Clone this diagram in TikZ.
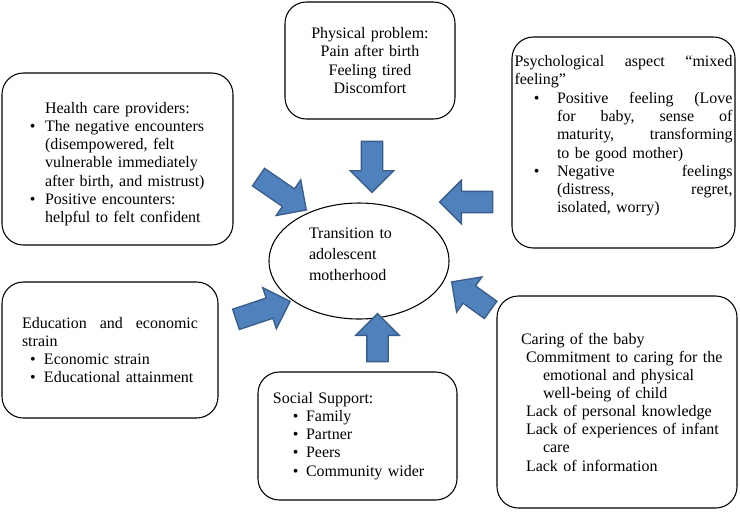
\documentclass[tikz,border=0pt]{standalone}
\usepackage{fontspec}
\setmainfont{Liberation Serif}
\usetikzlibrary{shapes.geometric,shapes.arrows}

\definecolor{arrowblue}{HTML}{4F81BD}
\definecolor{arrowedge}{HTML}{385D8A}

\newcommand{\bul}[2]{\hspace*{#1}\makebox[#2][l]{\textbullet}}

\tikzset{
	card/.style={draw, line width=0.8pt, rounded corners=16pt, align=left, inner sep=0pt,
		font=\fontsize{12}{13.6}\selectfont},
	blockarrow/.style={single arrow, draw=arrowedge, fill=arrowblue, line width=1pt,
		minimum width=31.5pt, single arrow head extend=8.25pt, single arrow tip angle=90,
		inner xsep=0pt, inner ysep=7.5pt}
}

\begin{document}
\begin{tikzpicture}[x=0.75pt,y=-0.75pt]
	\useasboundingbox (0,0) rectangle (740,512);

	%Centre
	\node[draw, ellipse, line width=0.8pt, minimum width=135pt, minimum height=87pt, inner sep=0pt,
		text width=75pt, align=left, text depth=42pt, font=\fontsize{12}{15.75}\selectfont]
		(transition) at (359,261) {Transition to\\ adolescent\\ motherhood};

	%Boxes
	\node[card, minimum width=127.5pt, minimum height=87.75pt, text width=112.5pt, align=center]
		(physical) at (370,60.5) {Physical problem:\\ Pain after birth\\ Feeling tired\\ Discomfort};

	\node[card, minimum width=173.25pt, minimum height=129pt, text width=142.5pt, text height=16pt]
		(health) at (117.5,159) {%
		\makebox[\linewidth]{Health care providers:}\\
		\bul{5.6pt}{11.3pt}The negative encounters\\
		\hspace*{16.9pt}(disempowered, felt\\
		\hspace*{16.9pt}vulnerable immediately\\
		\hspace*{16.9pt}after birth, and mistrust)\\
		\bul{5.6pt}{11.3pt}Positive encounters:\\
		\hspace*{16.9pt}helpful to felt confident};

	\node[card, minimum width=167.25pt, minimum height=158.25pt, text width=163.5pt,
		text depth=122pt, font=\fontsize{12}{13.7}\selectfont]
		(psych) at (623.5,142.5) {%
		Psychological\hfill aspect\hfill “mixed\\
		feeling”\\
		\bul{14.6pt}{17.3pt}Positive\hfill feeling\hfill (Love\\
		\hspace*{31.9pt}for\hfill baby,\hfill sense\hfill of\\
		\hspace*{31.9pt}maturity,\hfill transforming\\
		\hspace*{31.9pt}to be good mother)\\
		\bul{14.6pt}{17.3pt}Negative\hfill feelings\\
		\hspace*{31.9pt}(distress,\hfill regret,\\
		\hspace*{31.9pt}isolated, worry)};

	\node[card, minimum width=162pt, minimum height=102pt, text width=132pt]
		(education) at (110,350) {%
		Education\hfill and\hfill economic\\
		strain\\
		\bul{6pt}{10.5pt}Economic strain\\
		\bul{6pt}{10.5pt}Educational attainment};

	\node[card, minimum width=149.25pt, minimum height=96pt, text width=135pt]
		(social) at (357.5,436) {%
		\hspace*{4.1pt}Social Support:\\
		\bul{19.1pt}{9.8pt}Family\\
		\bul{19.1pt}{9.8pt}Partner\\
		\bul{19.1pt}{9.8pt}Peers\\
		\bul{19.1pt}{9.8pt}Community wider};

	\node[card, minimum width=180pt, minimum height=159pt, text width=165pt]
		(caring) at (617,402) {%
		\hspace*{10.5pt}Caring of the baby\\
		\hspace*{14.25pt}Commitment to caring for the\\
		\hspace*{27pt}emotional and physical\\
		\hspace*{27pt}well-being of child\\
		\hspace*{14.25pt}Lack of personal knowledge\\
		\hspace*{14.25pt}Lack of experiences of infant\\
		\hspace*{27pt}care\\
		\hspace*{14.25pt}Lack of information};

	%Arrows towards the centre
	\foreach \name/\px/\py/\ang/\len in {arrphys/372/161.5/-90/38.25, arrhealth/278/190.5/-34.5/43.5,
		arrpsych/471.5/202/180/39.75, arredu/258/312/18.4/42.75,
		arrsocial/377.5/343/90/36, arrcaring/475.5/299/144.3/36}{
		\node[blockarrow, rotate=\ang, minimum height=\len pt] (\name) at (\px,\py) {};
	}
\end{tikzpicture}
\end{document}
